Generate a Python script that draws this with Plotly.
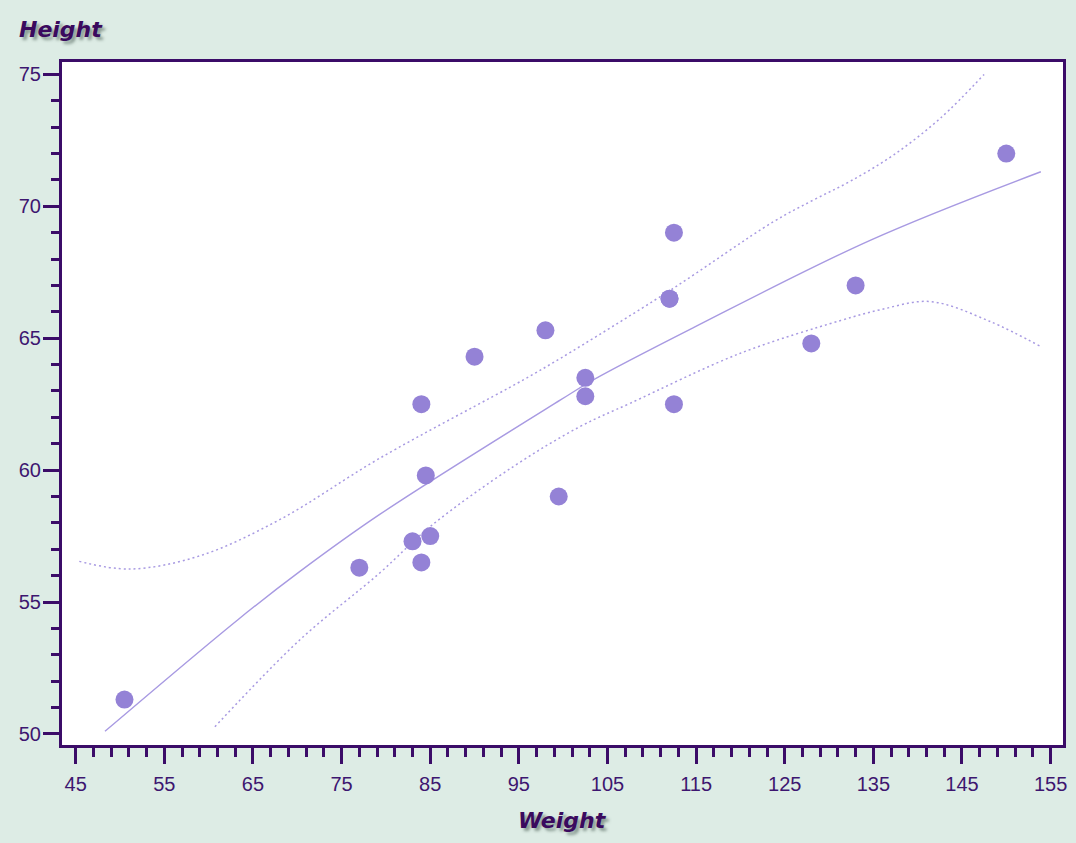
import plotly.graph_objects as go

# Observed data (weight vs height)
weight = [112.5, 84.0, 98.0, 102.5, 102.5, 83.0, 84.5, 112.5, 84.0, 99.5,
          50.5, 90.0, 77.0, 112.0, 150.0, 128.0, 133.0, 85.0, 112.0]
height = [69.0, 56.5, 65.3, 62.8, 63.5, 57.3, 59.8, 62.5, 62.5, 59.0,
          51.3, 64.3, 56.3, 66.5, 72.0, 64.8, 67.0, 57.5, 66.5]

# Fitted curve
fit_x = [48.3, 63.3, 70.3, 79.3, 99.7, 103.4, 114.7, 134.7, 153.9]
fit_y = [50.10, 54.33, 56.16, 58.32, 62.66, 63.42, 65.40, 68.72, 71.31]

# Upper confidence limit
up_x = [45.4, 51.1, 59.0, 68.0, 79.3, 95.5, 99.7, 112.1, 123.75, 128.3, 132.4, 137.3, 142.6, 147.5]
up_y = [56.54, 56.25, 56.75, 58.12, 60.45, 63.42, 64.24, 66.82, 69.42, 70.25, 70.95, 71.95, 73.35, 75.0]

# Lower confidence limit
lo_x = [60.7, 70.3, 79.3, 85.0, 94.4, 101.9, 107.6, 120.0, 131.3, 135.8, 141.4, 148.2, 153.9]
lo_y = [50.27, 53.57, 56.10, 57.86, 60.14, 61.65, 62.54, 64.43, 65.67, 66.08, 66.39, 65.63, 64.68]

x_ticks = [45, 55, 65, 75, 85, 95, 105, 115, 125, 135, 145, 155]
y_ticks = [50, 55, 60, 65, 70, 75]

DARK = "#3b0c68"
TEXT = "#3d1670"
MARK = "#9482d6"
LINE = "#a89ae2"
BG = "#ddece5"

fig = go.Figure()
fig.add_trace(go.Scatter(x=up_x, y=up_y, mode="lines",
                         line=dict(color=LINE, width=1.5, dash="2px,3px", shape="spline"),
                         hoverinfo="skip", showlegend=False))
fig.add_trace(go.Scatter(x=lo_x, y=lo_y, mode="lines",
                         line=dict(color=LINE, width=1.5, dash="2px,3px", shape="spline"),
                         hoverinfo="skip", showlegend=False))
fig.add_trace(go.Scatter(x=fit_x, y=fit_y, mode="lines",
                         line=dict(color=LINE, width=1.4, shape="spline"),
                         hoverinfo="skip", showlegend=False))
fig.add_trace(go.Scatter(x=weight, y=height, mode="markers",
                         marker=dict(color=MARK, size=18, line=dict(width=0)),
                         showlegend=False))

tickfont = dict(family="Liberation Sans", size=20, color=TEXT)
axis_common = dict(showgrid=False, zeroline=False, showline=True, mirror=True,
                   linewidth=3, linecolor=DARK, ticks="outside", ticklen=16,
                   tickwidth=3, tickcolor=DARK, tickfont=tickfont, automargin=False)

fig.update_xaxes(range=[43.45, 156.4], tickmode="array", tickvals=x_ticks,
                 ticklabelstandoff=3,
                 minor=dict(ticks="outside", ticklen=9, tickwidth=3, tickcolor=DARK,
                            dtick=2, tick0=45, showgrid=False),
                 **axis_common)
fig.update_yaxes(range=[49.58, 75.47], tickmode="array", tickvals=y_ticks,
                 ticklabelstandoff=-2,
                 minor=dict(ticks="outside", ticklen=8, tickwidth=3, tickcolor=DARK,
                            dtick=1, tick0=50, showgrid=False),
                 **axis_common)

title_font = dict(family="DejaVu Sans", size=22, color="#3a0a5e", weight="bold",
                  style="italic", shadow="3px 3px 3px rgba(70,90,80,0.55)")
fig.add_annotation(text="Height", xref="paper", yref="paper", x=-0.045, y=1.048,
                   xanchor="left", yanchor="middle", showarrow=False, font=title_font)
fig.add_annotation(text="Weight", xref="paper", yref="paper", x=0.5, y=-0.11,
                   xanchor="center", yanchor="middle", showarrow=False, font=title_font)

fig.update_layout(width=1076, height=843, margin=dict(l=62, r=13, t=62, b=98),
                  paper_bgcolor=BG, plot_bgcolor="white", showlegend=False)

fig.write_html("out.html", config={"displayModeBar": False},
               post_script="document.body.style.margin='0';document.body.style.background='%s';" % BG)
